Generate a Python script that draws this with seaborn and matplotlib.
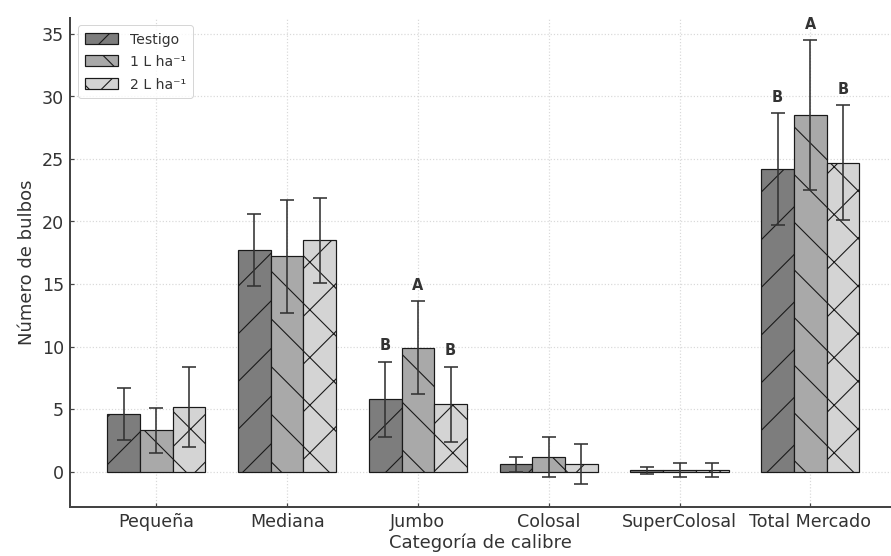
import numpy as np
import pandas as pd
import matplotlib
matplotlib.use("Agg")
import matplotlib.pyplot as plt
import seaborn as sns

# ---------------- data ----------------
categorias = ["Pequeña", "Mediana", "Jumbo", "Colosal", "SuperColosal", "Total Mercado"]
tratamientos = ["Testigo", "1 L ha⁻¹", "2 L ha⁻¹"]
testigo = [4.6, 17.7, 5.8, 0.6, 0.1, 24.2]
dosis1 = [3.3, 17.2, 9.9, 1.2, 0.15, 28.5]
dosis2 = [5.2, 18.5, 5.4, 0.6, 0.15, 24.7]
err_testigo = [2.1, 2.9, 3.0, 0.6, 0.3, 4.5]
err_dosis1 = [1.8, 4.5, 3.7, 1.6, 0.55, 6.0]
err_dosis2 = [3.2, 3.4, 3.0, 1.6, 0.55, 4.6]
letras_testigo = ["", "", "B", "", "", "B"]
letras_dosis1 = ["", "", "A", "", "", "A"]
letras_dosis2 = ["", "", "B", "", "", "B"]
y_ticks = [0, 5, 10, 15, 20, 25, 30, 35]

# ---------------- style ----------------
DPI = 143
P = 72.0 / DPI          # points per output pixel


def pt(px):
    return px * P


colores = ["#7d7d7d", "#a9a9a9", "#d4d4d4"]
hatches = ["/", "\\", "x"]
ink = "#333333"

plt.rcParams["font.family"] = ["DejaVu Sans"]
plt.rcParams["hatch.linewidth"] = pt(1.1)
plt.rcParams["hatch.color"] = "#1a1a1a"

df = pd.DataFrame({
    "Categoría": categorias * 3,
    "Tratamiento": [tratamientos[0]] * 6 + [tratamientos[1]] * 6 + [tratamientos[2]] * 6,
    "Valor": testigo + dosis1 + dosis2,
})
errores = [err_testigo, err_dosis1, err_dosis2]
letras = [letras_testigo, letras_dosis1, letras_dosis2]

fig = plt.figure(figsize=(891.4 / DPI, 556.4 / DPI), dpi=DPI)
ax = fig.add_axes([70 / 891, 1 - 507 / 556, (891 - 70) / 891, (507 - 18) / 556])
ax.set_axisbelow(True)

sns.barplot(data=df, x="Categoría", y="Valor", hue="Tratamiento",
            order=categorias, hue_order=tratamientos, palette=colores,
            width=0.75, errorbar=None, edgecolor="#1a1a1a",
            linewidth=pt(1.2), saturation=1, legend=False, ax=ax)

bar_containers = list(ax.containers)
for i, cont in enumerate(bar_containers):
    xs, ys = [], []
    for bar in cont:
        bar.set_hatch(hatches[i])
        xs.append(bar.get_x() + bar.get_width() / 2)
        ys.append(bar.get_height())
    ax.errorbar(xs, ys, yerr=errores[i], fmt="none", ecolor=ink,
                elinewidth=pt(1.6), capsize=pt(7), capthick=pt(1.6), zorder=5)
    for x, y, e, l in zip(xs, ys, errores[i], letras[i]):
        if l:
            ax.annotate(l, (x, y + e), xytext=(0, pt(16)), textcoords="offset points",
                        ha="center", va="center", fontsize=pt(14.5), fontweight="bold",
                        color=ink)

leg = ax.legend(bar_containers, tratamientos, loc="upper left",
                fontsize=pt(14), handlelength=2.4, handleheight=0.8,
                labelspacing=0.6, borderaxespad=0.55, borderpad=0.5,
                handletextpad=0.8, frameon=True, fancybox=True)
leg.get_frame().set_edgecolor("#cccccc")
leg.get_frame().set_linewidth(pt(1))
for t in leg.get_texts():
    t.set_color(ink)

ax.set_xlim(-0.66, 5.62)
ax.set_ylim(-2.83, 36.3)
ax.set_yticks(y_ticks)
ax.set_xlabel("Categoría de calibre", fontsize=pt(18), color=ink, labelpad=pt(2))
ax.set_ylabel("Número de bulbos", fontsize=pt(18), color=ink, labelpad=pt(6))
ax.tick_params(axis="both", direction="in", length=pt(4), width=pt(1.2),
               colors="#444444", labelcolor=ink, labelsize=pt(17.5), pad=pt(6))
ax.grid(True, color="#d9d9d9", linestyle=":", linewidth=pt(1.2))
for s in ["top", "right"]:
    ax.spines[s].set_visible(False)
for s in ["left", "bottom"]:
    ax.spines[s].set_color("#444444")
    ax.spines[s].set_linewidth(pt(2))

fig.savefig("out.png", dpi=DPI)
